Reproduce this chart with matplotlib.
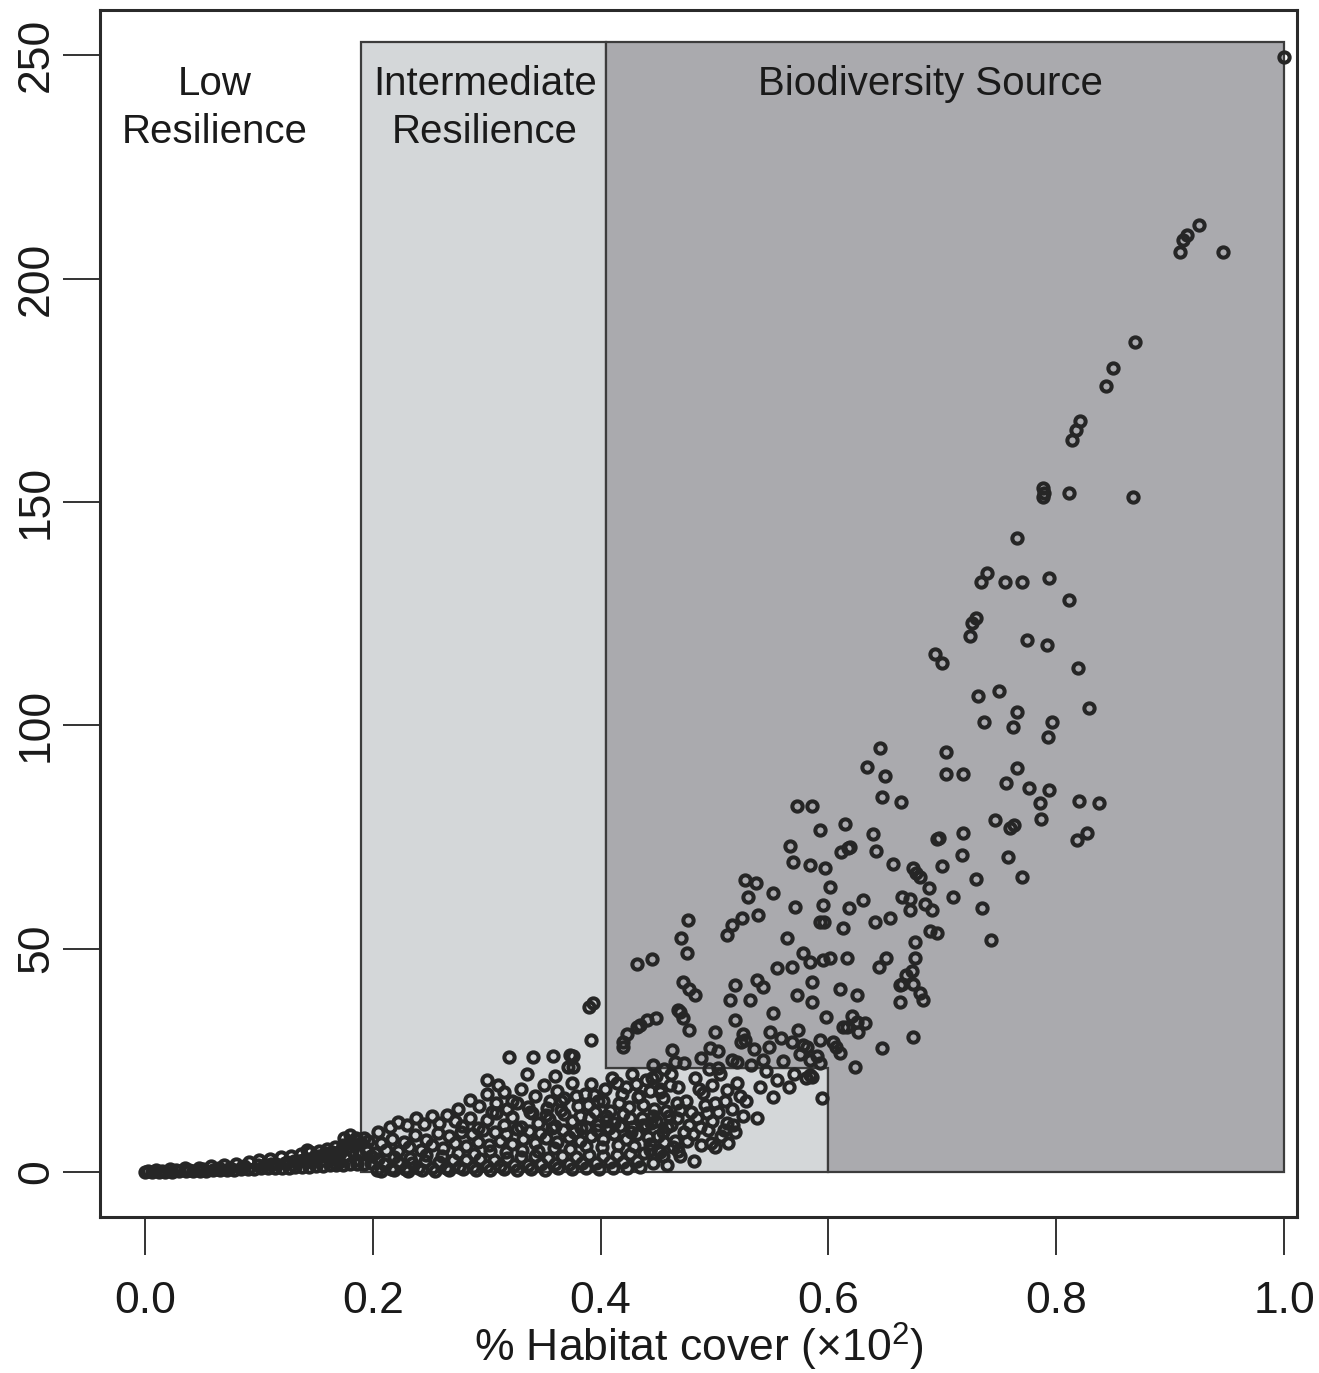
import matplotlib
matplotlib.use("Agg")
import matplotlib.pyplot as plt
from matplotlib.patches import Polygon

plt.rcParams['font.family'] = ['Liberation Sans', 'DejaVu Sans']
plt.rcParams['mathtext.fontset'] = 'custom'
plt.rcParams['mathtext.rm'] = 'Liberation Sans'
plt.rcParams['mathtext.it'] = 'Liberation Sans:italic'

# ---------------- data ----------------
x_ticks = [0.0, 0.2, 0.4, 0.6, 0.8, 1.0]
x_tick_labels = ["0.0", "0.2", "0.4", "0.6", "0.8", "1.0"]
y_ticks = [0, 50, 100, 150, 200, 250]
y_tick_labels = ["0", "50", "100", "150", "200", "250"]

region_names = ["Low\nResilience", "Intermediate\nResilience", "Biodiversity Source"]
low_int_cut = 0.19      # low / intermediate boundary
int_src_cut = 0.405     # intermediate / source boundary
notch_x = 0.60          # right end of intermediate notch
notch_y = 23.3          # top of intermediate notch
region_top = 253.0
region_right = 1.0

# low band (x 0 - 0.2)
band_x = [0.000, 0.006, 0.012, 0.018, 0.024, 0.030, 0.036, 0.042, 0.048, 0.054, 0.060, 0.066,
          0.072, 0.078, 0.084, 0.090, 0.096, 0.102, 0.108, 0.114, 0.120, 0.126, 0.132, 0.138,
          0.144, 0.150, 0.156, 0.162, 0.168, 0.174, 0.180, 0.186, 0.192, 0.198,
          0.010, 0.022, 0.035, 0.047, 0.058, 0.069, 0.080, 0.091, 0.100, 0.110, 0.119, 0.128,
          0.137, 0.145, 0.153, 0.160, 0.167, 0.174, 0.180, 0.186, 0.192,
          0.065, 0.085, 0.105, 0.115, 0.125, 0.135, 0.142, 0.148, 0.155, 0.161, 0.166, 0.171,
          0.176, 0.182, 0.188, 0.194, 0.198, 0.170, 0.185, 0.195,
          0.142, 0.175, 0.180, 0.185, 0.205,
          0.003, 0.015, 0.027, 0.039, 0.051, 0.063, 0.075, 0.087, 0.099, 0.111, 0.123, 0.131,
          0.139, 0.147, 0.152, 0.158, 0.164, 0.172, 0.178, 0.184, 0.190, 0.196]
band_y = [0.0, 0.0, 0.1, 0.1, 0.1, 0.2, 0.2, 0.2, 0.3, 0.3, 0.4, 0.4,
          0.5, 0.5, 0.6, 0.6, 0.7, 0.8, 0.8, 0.9, 1.0, 1.0, 1.1, 1.2,
          1.2, 1.3, 1.4, 1.5, 1.5, 1.6, 1.7, 1.8, 1.9, 2.0,
          0.4, 0.6, 0.8, 1.0, 1.3, 1.6, 1.9, 2.3, 2.6, 2.9, 3.3, 3.6,
          4.0, 4.4, 4.8, 5.2, 5.6, 6.1, 6.6, 7.1, 7.6,
          0.9, 1.2, 1.6, 1.9, 2.2, 2.5, 2.9, 3.3, 2.6, 3.6, 3.0, 4.2,
          3.5, 4.8, 4.0, 5.3, 3.6, 2.3, 2.8, 4.6,
          5.0, 7.7, 8.2, 7.6, 9.0,
          0.2, 0.3, 0.4, 0.5, 0.6, 0.7, 1.0, 1.3, 1.5, 1.8, 2.0, 2.4,
          2.8, 2.2, 3.6, 4.2, 4.4, 5.0, 5.6, 6.0, 6.5, 7.0]

# dense cloud (x 0.2 - 0.45)
dense_x = [0.204, 0.210, 0.216, 0.222, 0.228, 0.234, 0.240, 0.246, 0.252, 0.258, 0.264, 0.270,
           0.276, 0.282, 0.288, 0.294, 0.300, 0.306, 0.312, 0.318, 0.324, 0.330, 0.336, 0.342,
           0.348, 0.354, 0.360, 0.366, 0.372, 0.378, 0.384, 0.390, 0.396, 0.402, 0.408, 0.414,
           0.420, 0.426, 0.432, 0.438,
           0.202, 0.212, 0.222, 0.232, 0.242, 0.252, 0.262, 0.272, 0.282, 0.292, 0.302, 0.312,
           0.322, 0.332, 0.342, 0.352, 0.362, 0.372, 0.382, 0.392, 0.402, 0.412, 0.422, 0.432, 0.442,
           0.215, 0.222, 0.230, 0.238, 0.245, 0.252, 0.258, 0.265, 0.272, 0.278, 0.285, 0.292,
           0.300, 0.308, 0.315, 0.322, 0.330, 0.338, 0.345, 0.352, 0.360, 0.368, 0.375, 0.383,
           0.390, 0.398, 0.405, 0.412, 0.420, 0.428, 0.436, 0.444,
           0.275, 0.285, 0.293, 0.300, 0.308, 0.315, 0.322, 0.330, 0.336, 0.342, 0.350, 0.356,
           0.362, 0.368, 0.375, 0.380, 0.386, 0.392, 0.398, 0.404, 0.410, 0.416, 0.422, 0.428,
           0.434, 0.440, 0.446, 0.452,
           0.320, 0.341, 0.358, 0.376, 0.376, 0.335, 0.373, 0.371, 0.360, 0.300, 0.310]
dense_y = [0.5, 1.8, 0.6, 2.2, 0.7, 2.0, 0.8, 2.5, 0.9, 2.3, 1.0, 2.7,
           1.1, 2.6, 1.2, 3.0, 1.3, 2.8, 1.4, 3.1, 1.5, 3.3, 1.6, 3.5,
           1.7, 3.2, 1.8, 3.6, 1.9, 3.4, 2.0, 3.8, 2.1, 3.6, 2.2, 3.9,
           2.3, 4.0, 2.4, 4.2,
           4.2, 5.0, 4.6, 5.6, 5.0, 6.0, 5.4, 6.4, 5.8, 6.8, 6.0, 7.0,
           6.2, 7.4, 6.5, 7.6, 6.8, 7.9, 7.0, 8.1, 7.3, 8.4, 7.5, 8.6, 7.8,
           10.0, 11.2, 10.5, 12.0, 10.8, 12.5, 11.0, 12.8, 11.5, 10.2, 12.0, 9.8,
           11.6, 13.2, 10.5, 12.4, 10.0, 13.5, 11.0, 12.8, 10.2, 13.0, 11.5, 9.8,
           12.0, 10.5, 12.5, 11.0, 13.0, 10.0, 12.2, 11.0,
           14.0, 16.2, 14.8, 17.5, 15.5, 18.0, 16.0, 18.6, 14.5, 17.0, 19.5, 15.8,
           18.2, 16.5, 20.0, 14.8, 17.5, 19.8, 16.0, 18.5, 21.0, 15.5, 19.0, 22.0,
           17.0, 20.5, 24.0, 18.0,
           25.7, 25.7, 26.0, 26.0, 23.5, 22.0, 26.2, 23.4, 21.5, 20.5, 19.5]

# extra fill inside the dense cloud
fill_x = [0.207, 0.219, 0.231, 0.243, 0.255, 0.267, 0.279, 0.291, 0.303, 0.315, 0.327, 0.339,
          0.351, 0.363, 0.375, 0.387, 0.399, 0.411, 0.423, 0.435,
          0.207, 0.217, 0.227, 0.237, 0.247, 0.257, 0.267, 0.277, 0.287, 0.297, 0.307, 0.317,
          0.327, 0.337, 0.347, 0.357, 0.367, 0.377, 0.387, 0.397, 0.407, 0.417, 0.427, 0.437,
          0.305, 0.318, 0.327, 0.340, 0.353, 0.365, 0.378, 0.389, 0.395, 0.402, 0.408, 0.419,
          0.425, 0.431, 0.437, 0.443, 0.449, 0.455, 0.461, 0.467, 0.456, 0.465,
          0.443, 0.449, 0.456, 0.467, 0.473, 0.479, 0.487, 0.492, 0.498, 0.503, 0.509, 0.516,
          0.522, 0.498, 0.486,
          0.205, 0.219, 0.233, 0.247, 0.261, 0.275, 0.289, 0.303, 0.317, 0.331, 0.345, 0.359,
          0.373, 0.387, 0.401, 0.415, 0.429, 0.443, 0.455, 0.468,
          0.355, 0.365, 0.382, 0.394, 0.405, 0.414, 0.426, 0.433, 0.446, 0.457]
fill_y = [0.3, 0.4, 0.3, 0.5, 0.3, 0.4, 0.6, 0.4, 0.5, 0.6, 0.4, 0.7,
          0.5, 0.8, 0.6, 0.9, 0.7, 1.0, 0.8, 1.2,
          6.5, 7.5, 6.8, 8.2, 7.2, 8.8, 8.0, 9.0, 8.4, 9.5, 9.0, 8.6,
          9.6, 9.2, 8.8, 9.8, 9.3, 8.9, 10.0, 9.4, 9.8, 10.2, 9.0, 10.5,
          13.5, 14.2, 15.5, 13.2, 14.3, 13.8, 17.0, 15.0, 13.5, 15.8, 13.6, 17.4,
          14.5, 19.6, 15.0, 18.2, 21.5, 16.5, 19.5, 15.5, 23.0, 24.6,
          5.0, 11.5, 6.8, 12.0, 9.0, 13.5, 10.0, 15.0, 11.5, 13.5, 16.0, 10.5,
          17.0, 19.5, 18.5,
          3.0, 3.4, 3.2, 3.8, 3.6, 4.2, 4.0, 4.6, 4.4, 5.0, 4.8, 5.4,
          5.2, 5.8, 5.6, 6.0, 5.8, 6.2, 3.5, 4.8,
          11.8, 16.0, 12.6, 17.2, 11.5, 20.0, 12.0, 16.8, 12.6, 13.6]

# middle cloud (x 0.44 - 0.6, low values)
mid_x = [0.450, 0.455, 0.460, 0.458, 0.465, 0.470, 0.475, 0.478, 0.481, 0.485, 0.490, 0.493,
         0.497, 0.500, 0.505, 0.508, 0.511, 0.511, 0.515, 0.520, 0.525, 0.528, 0.532, 0.537,
         0.540, 0.545, 0.551, 0.555, 0.560, 0.565, 0.570, 0.575, 0.580, 0.586, 0.594, 0.590,
         0.447, 0.452, 0.440, 0.445, 0.462, 0.468, 0.473, 0.483, 0.488, 0.495, 0.503, 0.515,
         0.523, 0.535, 0.548, 0.558, 0.568, 0.578,
         0.446, 0.452, 0.458, 0.464, 0.470, 0.476, 0.482, 0.488, 0.494, 0.500, 0.506, 0.512,
         0.518, 0.450, 0.462]
mid_y = [5.0, 9.0, 12.5, 10.0, 7.0, 13.9, 16.0, 10.5, 8.6, 12.0, 17.7, 13.2,
         6.5, 15.5, 22.0, 9.5, 18.4, 11.0, 14.0, 20.0, 12.5, 16.0, 24.0, 12.0,
         19.0, 22.5, 16.8, 20.5, 24.8, 19.0, 22.0, 26.5, 21.0, 21.3, 16.6, 26.0,
         14.0, 18.5, 10.5, 21.0, 22.0, 19.0, 24.5, 21.0, 25.5, 23.0, 27.0, 25.0,
         29.0, 27.5, 28.0, 30.0, 29.0, 28.5,
         2.0, 4.5, 1.5, 5.5, 3.5, 7.0, 2.5, 6.0, 9.5, 5.5, 8.0, 6.5,
         9.0, 8.0, 10.5]

# scattered points (x 0.39 - 0.7, values 20 - 85)
spread_x = [0.566, 0.611, 0.617, 0.569, 0.584, 0.527, 0.536, 0.529, 0.551, 0.571, 0.538, 0.524,
            0.593, 0.477, 0.471, 0.476, 0.515, 0.511, 0.564, 0.432, 0.445, 0.578, 0.584, 0.568,
            0.555, 0.595, 0.472, 0.478, 0.483, 0.518, 0.537, 0.543, 0.514, 0.531, 0.572, 0.586,
            0.586, 0.518, 0.551, 0.598, 0.468, 0.472, 0.478, 0.432, 0.441, 0.449, 0.420, 0.463,
            0.500, 0.496, 0.525, 0.549, 0.573, 0.593, 0.613, 0.625, 0.647, 0.623, 0.543, 0.520,
            0.503, 0.584, 0.621, 0.632, 0.626, 0.663, 0.663, 0.683, 0.674, 0.604, 0.610, 0.584,
            0.581, 0.593, 0.572, 0.586, 0.393, 0.390, 0.392, 0.470, 0.423, 0.435, 0.420, 0.527,
            0.607, 0.616]
spread_y = [73.0, 71.6, 72.5, 69.4, 68.7, 65.4, 64.7, 61.5, 62.4, 59.3, 57.5, 56.8,
            56.0, 56.4, 52.4, 49.0, 55.3, 53.0, 52.4, 46.6, 47.7, 49.0, 47.0, 45.9,
            45.6, 47.4, 42.5, 41.0, 39.6, 41.8, 43.0, 41.4, 38.5, 38.5, 39.6, 38.0,
            42.5, 34.0, 35.6, 34.7, 36.3, 34.5, 31.8, 32.5, 34.0, 34.5, 29.0, 27.3,
            31.3, 27.8, 31.0, 31.3, 31.8, 29.5, 32.5, 33.6, 27.8, 23.5, 25.0, 24.6,
            23.3, 25.0, 35.0, 33.3, 31.3, 41.8, 38.0, 38.5, 30.2, 29.0, 26.6, 21.7,
            28.0, 24.4, 82.0, 82.0, 37.8, 37.0, 29.5, 35.8, 31.0, 33.0, 28.0, 29.5,
            28.0, 32.5]

# upper points (x 0.59 - 1.0)
upper_x = [1.000, 0.925, 0.911, 0.909, 0.915, 0.946, 0.869, 0.850, 0.844, 0.821, 0.817, 0.814,
           0.788, 0.788, 0.789, 0.811, 0.867, 0.766, 0.739, 0.734, 0.755, 0.770, 0.794, 0.811,
           0.730, 0.726, 0.724, 0.774, 0.792, 0.694, 0.700, 0.819, 0.731, 0.750, 0.829, 0.766,
           0.762, 0.737, 0.796, 0.793, 0.645, 0.703, 0.634, 0.650, 0.703, 0.718, 0.766, 0.756,
           0.776, 0.794, 0.786, 0.787, 0.820, 0.838, 0.647, 0.664, 0.746, 0.759, 0.763, 0.827,
           0.818, 0.615, 0.639, 0.695, 0.697, 0.718, 0.717, 0.758, 0.770, 0.730, 0.735, 0.743,
           0.619, 0.642, 0.657, 0.674, 0.677, 0.680, 0.700, 0.709, 0.630, 0.618, 0.665, 0.672,
           0.685, 0.688, 0.672, 0.691, 0.641, 0.654, 0.613, 0.689, 0.695, 0.676, 0.601, 0.616,
           0.651, 0.644, 0.673, 0.674, 0.668, 0.676, 0.610, 0.625, 0.665, 0.680, 0.597, 0.593,
           0.601, 0.595, 0.596]
upper_y = [249.6, 212.0, 208.6, 206.0, 209.8, 206.0, 185.8, 180.0, 176.0, 168.0, 166.0, 163.8,
           153.0, 151.0, 152.0, 152.0, 151.0, 142.0, 134.0, 132.0, 132.0, 132.0, 133.0, 128.0,
           124.0, 123.0, 120.0, 119.0, 118.0, 116.0, 114.0, 112.8, 106.5, 107.6, 103.8, 103.0,
           99.6, 100.7, 100.7, 97.4, 95.0, 94.0, 90.7, 88.6, 89.0, 89.0, 90.4, 87.0,
           86.0, 85.5, 82.6, 79.0, 83.0, 82.6, 84.0, 82.8, 78.8, 77.0, 77.7, 75.9,
           74.3, 78.0, 75.6, 74.5, 74.8, 75.9, 71.0, 70.5, 66.0, 65.6, 59.0, 52.0,
           72.7, 71.8, 69.0, 68.0, 67.0, 66.0, 68.5, 61.6, 60.9, 59.0, 61.6, 61.0,
           60.0, 63.6, 58.6, 58.6, 56.0, 56.8, 54.6, 54.0, 53.6, 51.5, 48.0, 48.0,
           48.0, 46.0, 45.0, 42.0, 44.0, 48.0, 41.0, 39.6, 42.0, 40.0, 68.0, 76.5,
           63.8, 59.8, 56.0]

xs = band_x + dense_x + fill_x + mid_x + spread_x + upper_x
ys = band_y + dense_y + fill_y + mid_y + spread_y + upper_y

# ---------------- figure ----------------
fig = plt.figure(figsize=(13.19, 13.73), dpi=100)
ax = fig.add_axes([100/1319, 1 - 1217/1373, 1197/1319, 1207/1373])
ax.set_facecolor('white')

light = '#d4d7d9'
dark = '#aaaaae'
edge = '#3c3c3c'

light_poly = Polygon([(low_int_cut, 0), (low_int_cut, region_top), (int_src_cut, region_top),
                      (int_src_cut, notch_y), (notch_x, notch_y), (notch_x, 0)],
                     closed=True, facecolor=light, edgecolor=edge, lw=1.6, zorder=1)
dark_poly = Polygon([(int_src_cut, notch_y), (int_src_cut, region_top), (region_right, region_top),
                     (region_right, 0), (notch_x, 0), (notch_x, notch_y)],
                    closed=True, facecolor=dark, edgecolor=edge, lw=1.6, zorder=1)
ax.add_patch(light_poly)
ax.add_patch(dark_poly)

ax.plot(xs, ys, linestyle='none', marker='o', markersize=7.4, markerfacecolor='none',
        markeredgecolor='#262626', markeredgewidth=2.9, zorder=3)

label_x = [0.0615, 0.2985, 0.690]
for name, lx in zip(region_names, label_x):
    ax.text(lx, 247.8, name, ha='center', va='top', fontsize=29, color='#1a1a1a',
            linespacing=1.35, zorder=4)

ax.set_xlim(-0.0395, 1.0114)
ax.set_ylim(-10.07, 260.1)
ax.set_xticks(x_ticks)
ax.set_xticklabels(x_tick_labels)
ax.set_yticks(y_ticks)
ax.set_yticklabels(y_tick_labels, rotation=90, va='center')
ax.tick_params(axis='both', direction='out', length=27, width=1.4, colors='#333333',
               labelsize=32, labelcolor='#1a1a1a')
ax.tick_params(axis='x', pad=19)
ax.tick_params(axis='y', pad=4)
for s in ax.spines.values():
    s.set_linewidth(2.2)
    s.set_color('#2a2a2a')

ax.set_xlabel('% Habitat cover (×10$^2$)', fontsize=32, color='#1a1a1a', labelpad=-1)

fig.savefig('out.png', dpi=100)
